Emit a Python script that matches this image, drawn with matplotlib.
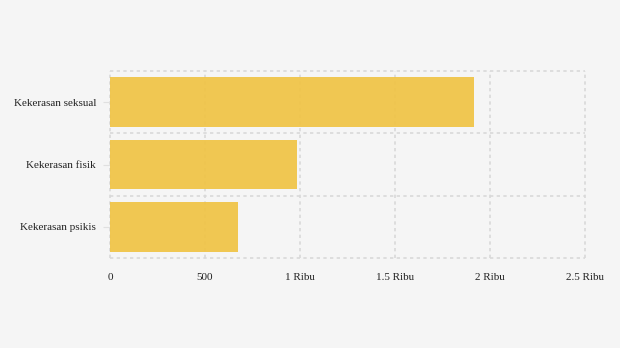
import numpy as np
import matplotlib.pyplot as plt

kategori = ['Kekerasan seksual', 'Kekerasan fisik', 'Kekerasan psikis']
jumlah = [1916, 984, 674]
xticks = [0, 500, 1000, 1500, 2000, 2500]
xlabels = ['0', '500', '1 Ribu', '1.5 Ribu', '2 Ribu', '2.5 Ribu']

plt.rcParams['font.family'] = ['Liberation Serif', 'DejaVu Serif']
bg = '#f5f5f5'
grid_col = '#d9d9d9'

fig = plt.figure(figsize=(6.2, 3.48), dpi=100, facecolor=bg)
ax = fig.add_axes([110 / 620, 1 - 258 / 348, 475 / 620, 187 / 348])
ax.set_facecolor(bg)

y = np.arange(len(kategori))
ax.barh(y, jumlah, height=0.8, color='#f0c344', alpha=0.92, zorder=3)

ax.set_xlim(0, 2500)
ax.set_ylim(len(kategori) - 0.5, -0.5)
ax.set_xticks(xticks)
ax.set_xticklabels(xlabels)
ax.set_yticks(y)
ax.set_yticklabels(kategori)

# grid garis putus-putus, termasuk tepi luar
for xv in xticks:
    ax.axvline(xv, color=grid_col, linestyle=(0, (2, 2)), linewidth=1.2, zorder=1, clip_on=False)
for yv in np.arange(-0.5, len(kategori), 1):
    ax.axhline(yv, color=grid_col, linestyle=(0, (2, 2)), linewidth=1.2, zorder=1, clip_on=False)

for s in ax.spines.values():
    s.set_visible(False)

ax.tick_params(axis='x', length=0, pad=11, labelsize=8, colors='#222222')
ax.tick_params(axis='y', length=5, color='#e0e0e0', pad=5, labelsize=8, labelcolor='#222222')
for lbl in ax.get_yticklabels():
    lbl.set_y(lbl.get_position()[1])
    lbl.set_verticalalignment('center_baseline')

fig.savefig('out.png', dpi=100, facecolor=bg)
